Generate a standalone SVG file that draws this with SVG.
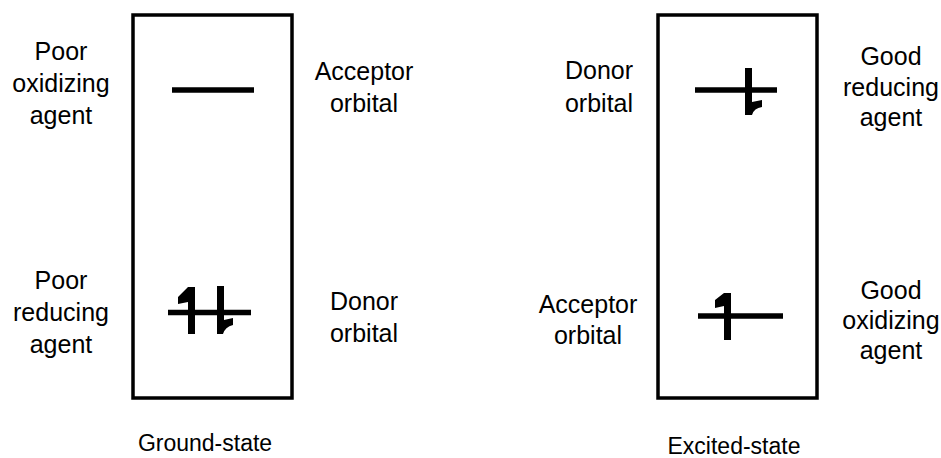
<svg xmlns="http://www.w3.org/2000/svg" width="941" height="458" viewBox="0 0 941 458">
<style>
text{font-family:"Liberation Sans",Arial,sans-serif;font-size:25px;fill:#000;text-anchor:middle}
.cap{font-size:23px}
.box{fill:none;stroke:#000;stroke-width:3.5}
.lvl{stroke:#000;stroke-width:5.5;fill:none}
.spin{fill:#000;stroke:none}
</style>
<rect width="941" height="458" fill="#fff"/>
<g id="ground-state">
<rect class="box" x="133" y="15" width="159" height="383"/>
<line class="lvl" x1="172" y1="90" x2="254" y2="90"/>
<line class="lvl" x1="168" y1="312.5" x2="251" y2="312.5"/>
<path class="spin" d="M188,287 H195 V334 H188 V302 L178,304 V297 Z"/>
<path class="spin" d="M217,286 H224 V320 L233,318 V325 Q225,327 223,334 H217 Z"/>
<text class="cap" x="205" y="451">Ground-state</text>
</g>
<g id="excited-state">
<rect class="box" x="658" y="15" width="159" height="383"/>
<line class="lvl" x1="695" y1="90" x2="777" y2="90"/>
<line class="lvl" x1="698" y1="316" x2="783" y2="316"/>
<path class="spin" d="M745,68 H752 V102 L762,100 V107 Q754,108 752,115 H745 Z"/>
<path class="spin" d="M724,293 H731 V340 H724 V306 L715,308 V300 Z"/>
<text class="cap" x="734" y="454">Excited-state</text>
</g>
<g id="poor-oxidizing">
<text x="61" y="60">Poor</text>
<text x="61" y="92">oxidizing</text>
<text x="61" y="124">agent</text>
</g>
<g id="acceptor-orbital-ground">
<text x="364" y="80">Acceptor</text>
<text x="364" y="112">orbital</text>
</g>
<g id="poor-reducing">
<text x="61" y="289">Poor</text>
<text x="61" y="321">reducing</text>
<text x="61" y="353">agent</text>
</g>
<g id="donor-orbital-ground">
<text x="364" y="310">Donor</text>
<text x="364" y="342">orbital</text>
</g>
<g id="donor-orbital-excited">
<text x="599" y="79">Donor</text>
<text x="599" y="112">orbital</text>
</g>
<g id="good-reducing">
<text x="891" y="65">Good</text>
<text x="891" y="96">reducing</text>
<text x="891" y="126">agent</text>
</g>
<g id="acceptor-orbital-excited">
<text x="588" y="313">Acceptor</text>
<text x="588" y="344">orbital</text>
</g>
<g id="good-oxidizing">
<text x="891" y="299">Good</text>
<text x="891" y="329">oxidizing</text>
<text x="891" y="359">agent</text>
</g>
<g id="connectors"></g>
</svg>
